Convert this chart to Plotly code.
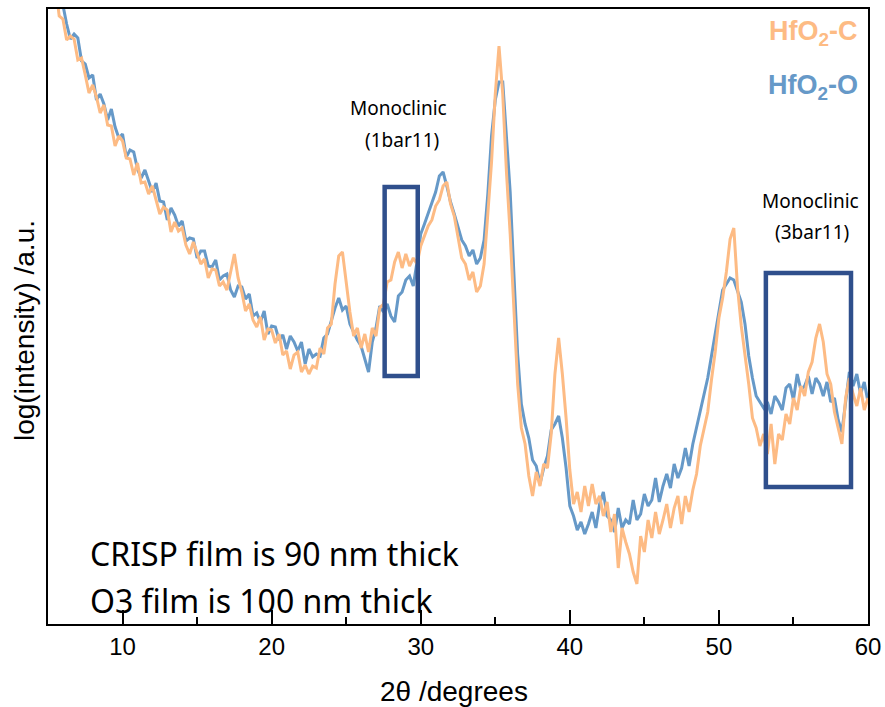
import plotly.graph_objects as go

# 2-theta grid (degrees), step 0.25 from 5.5 to 60.0
two_theta_start = 5.5
two_theta_step = 0.25

hfo2_c = [
    640, 608, 605, 584, 588, 585, 564, 566, 549, 531, 539, 527, 511, 519, 499, 498,
    478, 488, 483, 466, 465, 449, 461, 441, 442, 430, 438, 423, 410, 417, 414, 392,
    402, 393, 396, 379, 370, 382, 370, 360, 365, 346, 355, 354, 338, 342, 334, 353,
    370, 346, 332, 313, 320, 304, 297, 307, 284, 295, 294, 281, 290, 269, 273, 255,
    269, 272, 252, 259, 250, 258,
    256, 276, 270, 296, 300, 340, 368, 372, 340, 312,
    288, 296, 276, 290, 272, 296, 288, 316, 320, 342, 344, 362, 372, 356, 370, 358,
    366, 360, 378, 388, 398, 404, 418, 424, 438, 442, 420, 408, 388, 366, 360, 344,
    352, 332, 338, 360, 410, 462, 530, 578, 530, 452, 390, 320, 240, 196, 180, 148,
    128, 152, 138, 160, 156, 190, 250, 286, 250, 206, 154, 120, 132, 112, 138, 118,
    140, 120, 128, 108, 122, 92, 110, 56, 96, 82, 70, 52, 40, 88, 72, 104,
    86, 112, 90, 104, 120, 96, 116, 128, 100, 128, 112, 134, 150, 178, 194, 212,
    244, 272, 306, 326, 352, 385, 396, 336, 298, 270, 240, 206, 196, 178, 190, 170,
    200, 160, 190, 184, 210, 200, 226, 214, 238, 228, 252, 262, 286, 300, 282, 250,
    240, 212, 196, 180, 226, 246, 230, 218, 236, 214, 226,
]

hfo2_o = [
    658, 621, 619, 600, 585, 590, 586, 563, 560, 546, 549, 524, 530, 520, 504, 515,
    497, 486, 490, 467, 474, 472, 455, 446, 454, 444, 432, 441, 423, 422, 404, 416,
    409, 398, 403, 383, 386, 385, 366, 373, 373, 358, 357, 364, 344, 348, 350, 334,
    327, 338, 337, 325, 330, 308, 311, 302, 313, 290, 298, 297, 284, 289, 275, 288,
    282, 273, 282, 260, 275, 267,
    270, 268, 286, 290, 304, 316, 326, 314, 318, 300,
    292, 284, 278, 264, 252, 282, 296, 318, 312, 320, 308, 302, 328, 332, 344, 348,
    338, 362, 390, 400, 410, 420, 432, 448, 452, 438, 422, 410, 396, 384, 378, 368,
    374, 360, 366, 384, 430, 488, 524, 542, 542, 490, 432, 350, 270, 220, 200, 186,
    164, 158, 140, 156, 168, 194, 200, 208, 186, 156, 118, 108, 94, 102, 90, 100,
    112, 96, 120, 132, 108, 104, 92, 116, 96, 104, 100, 124, 104, 110, 130, 118,
    124, 146, 122, 138, 150, 136, 160, 146, 156, 176, 158, 180, 196, 212, 228, 246,
    268, 292, 312, 334, 340, 346, 344, 332, 322, 300, 268, 246, 228, 222, 216, 222,
    210, 228, 222, 214, 236, 240, 224, 250, 234, 238, 248, 230, 246, 240, 228, 242,
    222, 226, 204, 192, 220, 252, 238, 250, 230, 242, 222,
]

two_theta_c = [round(two_theta_start + two_theta_step * i, 2) for i in range(len(hfo2_c))]
two_theta_o = [round(two_theta_start + two_theta_step * i, 2) for i in range(len(hfo2_o))]

x_ticks = [10, 20, 30, 40, 50, 60]

# annotation boxes (x0, x1, y0, y1) in data units
box_1bar11 = (27.58, 29.80, 248, 437)
box_3bar11 = (53.15, 58.86, 137, 351)

ORANGE = "#FDBB84"
BLUE = "#6699C8"
NAVY = "#2F4F8C"

fig = go.Figure()
fig.add_trace(go.Scatter(x=two_theta_o, y=hfo2_o, mode="lines", name="HfO2-O",
                         line=dict(color=BLUE, width=3), showlegend=False))
fig.add_trace(go.Scatter(x=two_theta_c, y=hfo2_c, mode="lines", name="HfO2-C",
                         line=dict(color=ORANGE, width=3), showlegend=False))

for (x0, x1, y0, y1) in (box_1bar11, box_3bar11):
    fig.add_shape(type="rect", x0=x0, x1=x1, y0=y0, y1=y1, xref="x", yref="y",
                  line=dict(color=NAVY, width=4.5), fillcolor="rgba(0,0,0,0)")

label_font = dict(family="Noto Sans", size=19, color="black")
fig.add_annotation(x=28.48, y=516, text="Monoclinic", showarrow=False, font=label_font)
fig.add_annotation(x=28.72, y=484, text="(1bar11)", showarrow=False, font=label_font)
fig.add_annotation(x=56.11, y=423, text="Monoclinic", showarrow=False, font=label_font)
fig.add_annotation(x=56.24, y=392, text="(3bar11)", showarrow=False, font=label_font)

note_font = dict(family="Noto Sans", size=32, color="black")
fig.add_annotation(x=7.65, y=71, text="CRISP film is 90 nm thick", showarrow=False,
                   xanchor="left", font=note_font)
fig.add_annotation(x=7.65, y=24, text="O3 film is 100 nm thick", showarrow=False,
                   xanchor="left", font=note_font)

leg_font_c = dict(family="Liberation Sans", size=27, color=ORANGE)
leg_font_o = dict(family="Liberation Sans", size=27, color=BLUE)
fig.add_annotation(x=59.45, y=591, text="<b>HfO<sub>2</sub>-C</b>", showarrow=False,
                   xanchor="right", font=leg_font_c)
fig.add_annotation(x=59.45, y=537, text="<b>HfO<sub>2</sub>-O</b>", showarrow=False,
                   xanchor="right", font=leg_font_o)

title_font = dict(family="Liberation Sans", size=28, color="black")
fig.add_annotation(xref="paper", yref="paper", x=0.495, y=-0.109, text="2θ /degrees",
                   showarrow=False, font=title_font, xanchor="center", yanchor="middle")
fig.add_annotation(xref="paper", yref="paper", x=-0.0293, y=0.478,
                   text="log(intensity) /a.u.", textangle=-90,
                   showarrow=False, font=title_font, xanchor="center", yanchor="middle")

fig.update_xaxes(range=[5, 60], tickvals=x_ticks, ticks="inside", ticklen=14,
                 tickwidth=2, tickcolor="black", showline=True, linecolor="black",
                 linewidth=2, mirror=True, showgrid=False, zeroline=False,
                 automargin=False,
                 tickfont=dict(family="Liberation Sans", size=24, color="black"),
                 minor=dict(dtick=5, tick0=5, ticks="inside", ticklen=7,
                            tickwidth=2, tickcolor="black", showgrid=False))
fig.update_yaxes(range=[0, 615], showticklabels=False, ticks="", showline=True,
                 linecolor="black", linewidth=2, mirror=True, showgrid=False,
                 zeroline=False, automargin=False)

fig.update_layout(width=885, height=707, margin=dict(l=48, r=17, t=9, b=83),
                  plot_bgcolor="white", paper_bgcolor="white")

fig.write_html("out.html", config={"displayModeBar": False},
               post_script="document.body.style.margin='0px';document.body.style.overflow='hidden';")
